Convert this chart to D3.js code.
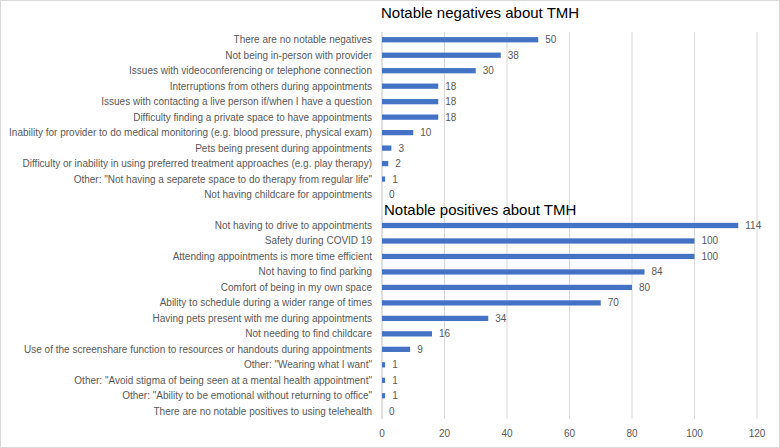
<!DOCTYPE html>
<html>
<head>
<meta charset="utf-8">
<script src="https://cdn.jsdelivr.net/npm/d3@7"></script>
<style>
  body { margin: 0; background: #fff; }
  svg { font-family: "Liberation Sans", Arial, sans-serif; }
</style>
</head>
<body>
<div id="chart"></div>
<script>
var negTitle = "Notable negatives about TMH";
var posTitle = "Notable positives about TMH";

var negLabels = [
  "There are no notable negatives",
  "Not being in-person with provider",
  "Issues with videoconferencing or telephone connection",
  "Interruptions from others during appointments",
  "Issues with contacting a live person if/when I have a question",
  "Difficulty finding a private space to have appointments",
  "Inability for provider to do medical monitoring (e.g. blood pressure, physical exam)",
  "Pets being present during appointments",
  "Difficulty or inability in using preferred treatment approaches (e.g. play therapy)",
  "Other: \"Not having a separete space to do therapy from regular life\"",
  "Not having childcare for appointments"
];
var negValues = [50, 38, 30, 18, 18, 18, 10, 3, 2, 1, 0];

var posLabels = [
  "Not having to drive to appointments",
  "Safety during COVID 19",
  "Attending appointments is more time efficient",
  "Not having to find parking",
  "Comfort of being in my own space",
  "Ability to schedule during a wider range of times",
  "Having pets present with me during appointments",
  "Not needing to find childcare",
  "Use of the screenshare function to resources or handouts during appointments",
  "Other: \"Wearing what I want\"",
  "Other: \"Avoid stigma of being seen at a mental health appointment\"",
  "Other: \"Ability to be emotional without returning to office\"",
  "There are no notable positives to using telehealth"
];
var posValues = [114, 100, 100, 84, 80, 70, 34, 16, 9, 1, 1, 1, 0];

var xTicks = [0, 20, 40, 60, 80, 100, 120];

var chart_width = 780, chart_height = 448;
var plot_left = 382, plot_right = 757, plot_top = 32, plot_bottom = 419;

// rows: negatives, one blank row, positives
var rows = [];
negLabels.forEach(function(l, i) { rows.push({ key: "n" + i, label: l, value: negValues[i] }); });
rows.push({ key: "gap", label: "", value: null });
posLabels.forEach(function(l, i) { rows.push({ key: "p" + i, label: l, value: posValues[i] }); });

var svg = d3.select("#chart").append("svg")
  .attr("width", chart_width)
  .attr("height", chart_height);

svg.append("rect")
  .attr("x", 0.5).attr("y", 0.5)
  .attr("width", chart_width - 1).attr("height", chart_height - 1)
  .attr("fill", "#fff")
  .attr("stroke", "#d9d9d9");

var x = d3.scaleLinear().domain([0, 120]).range([plot_left, plot_right]);
var y = d3.scaleBand().domain(rows.map(function(d) { return d.key; }))
  .range([plot_top, plot_bottom]).paddingInner(0.66).paddingOuter(0.33);

// gridlines
svg.append("g").selectAll("line")
  .data(xTicks)
  .enter().append("line")
  .attr("x1", function(d) { return x(d); })
  .attr("x2", function(d) { return x(d); })
  .attr("y1", plot_top)
  .attr("y2", plot_bottom)
  .attr("stroke", function(d) { return d === 0 ? "#bfbfbf" : "#d9d9d9"; })
  .attr("stroke-width", 1);

// x axis labels
svg.append("g").selectAll("text")
  .data(xTicks)
  .enter().append("text")
  .attr("x", function(d) { return x(d); })
  .attr("y", 437)
  .attr("text-anchor", "middle")
  .attr("font-size", "10px")
  .attr("fill", "#595959")
  .text(function(d) { return d; });

// bars
var bars = rows.filter(function(d) { return d.value !== null; });

svg.append("g").selectAll("rect")
  .data(bars)
  .enter().append("rect")
  .attr("x", x(0))
  .attr("y", function(d) { return y(d.key); })
  .attr("width", function(d) { return x(d.value) - x(0); })
  .attr("height", y.bandwidth())
  .attr("fill", "#4472c4");

// category labels
svg.append("g").selectAll("text")
  .data(bars)
  .enter().append("text")
  .attr("x", plot_left - 10)
  .attr("y", function(d) { return y(d.key) + y.bandwidth() / 2; })
  .attr("dy", "0.35em")
  .attr("text-anchor", "end")
  .attr("font-size", "10px")
  .attr("fill", "#595959")
  .text(function(d) { return d.label; });

// value labels
svg.append("g").selectAll("text")
  .data(bars)
  .enter().append("text")
  .attr("x", function(d) { return x(d.value) + 7; })
  .attr("y", function(d) { return y(d.key) + y.bandwidth() / 2; })
  .attr("dy", "0.35em")
  .attr("font-size", "10px")
  .attr("fill", "#595959")
  .text(function(d) { return d.value; });

// group titles
svg.append("text")
  .attr("x", 381)
  .attr("y", 18)
  .attr("font-size", "15px")
  .attr("fill", "#000")
  .text(negTitle);

svg.append("text")
  .attr("x", 384)
  .attr("y", y("gap") + y.bandwidth() / 2 + 5)
  .attr("font-size", "15px")
  .attr("fill", "#000")
  .text(posTitle);
</script>
</body>
</html>
